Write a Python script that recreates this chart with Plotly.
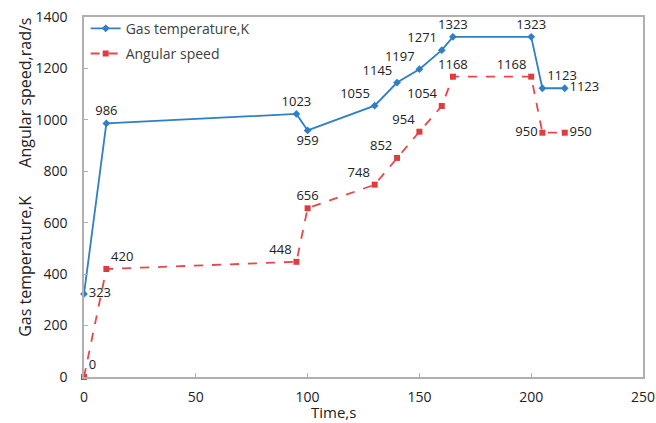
import plotly.graph_objects as go

time_s = [0, 10, 95, 100, 130, 140, 150, 160, 165, 200, 205, 215]
gas_temp = [323, 986, 1023, 959, 1055, 1145, 1197, 1271, 1323, 1323, 1123, 1123]
ang_speed = [0, 420, 448, 656, 748, 852, 954, 1054, 1168, 1168, 950, 950]

gas_pos = ["middle right", "top center", "top center", "bottom center", "top left", "top left",
           "top left", "top left", "top center", "top center", "top right", "middle right"]
ang_pos = ["top right", "top right", "top left", "top center", "top left", "top left",
           "top left", "top left", "top center", "top left", "middle left", "middle right"]

font_family = "Open Sans, Noto Sans, sans-serif"

fig = go.Figure()
fig.add_trace(go.Scatter(
    x=time_s, y=gas_temp, name="Gas temperature,K", legendgroup="g1",
    mode="lines+markers+text", text=[str(v) for v in gas_temp], textposition=gas_pos,
    textfont=dict(size=13, color="#222222"),
    line=dict(color="#2f7fc8", width=1.8),
    marker=dict(symbol="diamond", size=6, color="#2f7fc8"),
    cliponaxis=False,
))
fig.add_trace(go.Scatter(
    x=time_s, y=ang_speed, name="Angular speed", legendgroup="g2",
    mode="lines+markers+text", text=[str(v) for v in ang_speed], textposition=ang_pos,
    textfont=dict(size=13, color="#222222"),
    line=dict(color="#e8474a", width=1.8, dash="dash"),
    marker=dict(symbol="square", size=6, color="#e03c3e"),
    cliponaxis=False,
))

fig.update_layout(
    width=656, height=423,
    margin=dict(l=84, r=13, t=17, b=46, autoexpand=False),
    paper_bgcolor="white", plot_bgcolor="white",
    font=dict(family=font_family, size=13, color="#222222"),
    showlegend=True,
    legend=dict(x=0.003, y=1.012, xanchor="left", yanchor="top",
                bgcolor="rgba(255,255,255,0)", font=dict(size=14, color="#404040"),
                tracegroupgap=4, itemwidth=30),
    xaxis=dict(range=[0, 250], tickvals=[0, 50, 100, 150, 200, 250], automargin=False,
               showgrid=False, zeroline=False, showline=True, linecolor="#b0b0b0",
               linewidth=1.5, mirror=True, ticks="inside", ticklen=4, tickcolor="#b0b0b0",
               ticklabelstandoff=6, ticklabeloverflow="allow",
               tickfont=dict(size=14, color="#222222")),
    yaxis=dict(range=[0, 1400], tickvals=[0, 200, 400, 600, 800, 1000, 1200, 1400], automargin=False,
               showgrid=False, zeroline=False, showline=True, linecolor="#b0b0b0",
               linewidth=1.5, mirror=True, ticks="inside", ticklen=4, tickcolor="#b0b0b0",
               ticklabelstandoff=12, ticklabeloverflow="allow",
               tickfont=dict(size=14, color="#222222")),
)

fig.add_annotation(text="Time,s", xref="paper", yref="paper",
                   x=0.447, y=-0.097, showarrow=False, borderpad=0,
                   xanchor="center", yanchor="middle",
                   font=dict(size=15, color="#222222"))
fig.add_annotation(text="Gas temperature,K", xref="paper", yref="paper",
                   x=-0.1055, y=0.306, textangle=-90, showarrow=False,
                   xanchor="center", yanchor="middle",
                   font=dict(size=16, color="#222222"))
fig.add_annotation(text="Angular speed,rad/s", xref="paper", yref="paper",
                   x=-0.1055, y=0.79, textangle=-90, showarrow=False,
                   xanchor="center", yanchor="middle",
                   font=dict(size=16, color="#222222"))

fig.write_html("out.html", config={"displayModeBar": False},
               post_script="document.body.style.margin='0';document.body.style.overflow='hidden';")
